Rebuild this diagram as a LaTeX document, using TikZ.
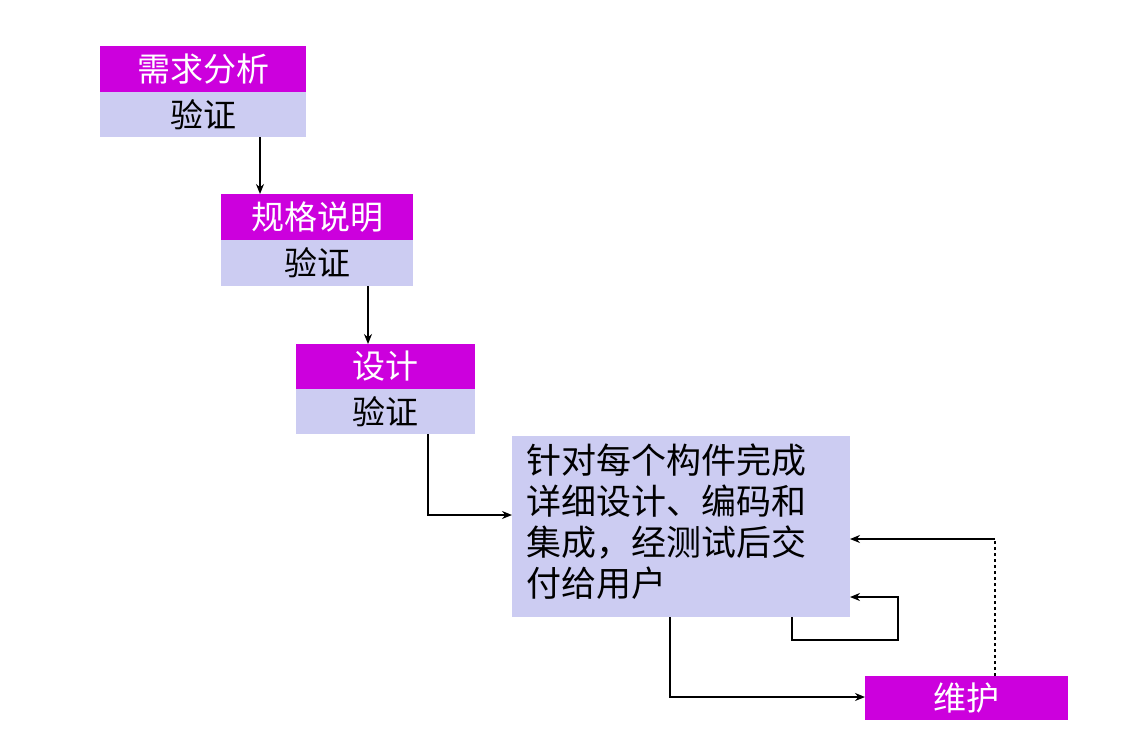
\documentclass[tikz,border=0pt]{standalone}
\usepackage{fontspec}
\setmainfont{Noto Sans CJK SC}
\usetikzlibrary{arrows.meta}
\definecolor{mag}{HTML}{CC00DD}
\definecolor{lav}{HTML}{CCCCF2}
\begin{document}
\begin{tikzpicture}[x=1pt,y=-1pt,
  top/.style={fill=mag,text=white,inner sep=0,font=\fontsize{33}{36}\selectfont},
  bot/.style={fill=lav,text=black,inner sep=0,font=\fontsize{33}{36}\selectfont},
  arr/.style={-{Stealth[length=10pt,width=8pt]},line width=1.5pt}]
\useasboundingbox (0,0) rectangle (1145,736);
\fill[white] (0,0) rectangle (1145,736);
\node[top,minimum width=206,minimum height=46] (a1) at (203,69) {需求分析};
\node[bot,minimum width=206,minimum height=45] (a2) at (203,114.5) {验证};
\node[top,minimum width=192,minimum height=46] (b1) at (317,217) {规格说明};
\node[bot,minimum width=192,minimum height=46] (b2) at (317,263) {验证};
\node[top,minimum width=179,minimum height=45] (c1) at (385.5,366.5) {设计};
\node[bot,minimum width=179,minimum height=45] (c2) at (385.5,411.5) {验证};
\node[fill=lav,minimum width=338,minimum height=181] (d) at (681,526.5) {};
\node[anchor=north west,inner sep=0,align=left,font=\fontsize{35}{41}\selectfont] (dt) at (526,444) {针对每个构件完成\\详细设计、编码和\\集成，经测试后交\\付给用户};
\node[top,minimum width=203,minimum height=44] (e) at (966.5,698) {维护};
\coordinate (p1) at (260,137); \coordinate (p2) at (260,194);
\draw[arr] (p1) -- (p2);
\coordinate (q1) at (368,286); \coordinate (q2) at (368,344);
\draw[arr] (q1) -- (q2);
\coordinate (r1) at (428,434); \coordinate (r2) at (428,515); \coordinate (r3) at (512,515);
\draw[arr] (r1) -- (r2) -- (r3);
\coordinate (s1) at (670,617); \coordinate (s2) at (670,697); \coordinate (s3) at (865,697);
\draw[arr] (s1) -- (s2) -- (s3);
\coordinate (t1) at (995,676); \coordinate (t2) at (995,539); \coordinate (t3) at (850,539);
\draw[line width=1.5pt,dashed] (t1) -- (t2);
\draw[arr] (t2) -- (t3);
\coordinate (u1) at (792,617); \coordinate (u2) at (792,640); \coordinate (u3) at (898,640); \coordinate (u4) at (898,597); \coordinate (u5) at (850,597);
\draw[arr] (u1) -- (u2) -- (u3) -- (u4) -- (u5);
\end{tikzpicture}
\end{document}
